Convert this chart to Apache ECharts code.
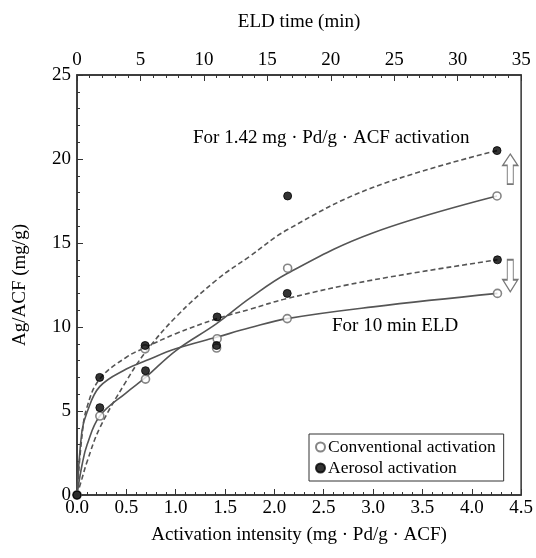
<!DOCTYPE html>
<html>
<head>
<meta charset="utf-8">
<script src="https://cdn.jsdelivr.net/npm/echarts@6/dist/echarts.min.js"></script>
<style>
  html, body { margin: 0; padding: 0; background: #fff; }
  #chart { width: 536px; height: 558px; }
</style>
</head>
<body>
<div id="chart"></div>
<script>
  // measured points: activation intensity (bottom axis) and ELD time (top axis)
  const intensity = [0, 0.23, 0.69, 1.42, 2.13, 4.26];
  const eldTime = [0, 1.8, 5.4, 11, 16.6, 33.1];

  // For 10 min ELD (vs intensity)
  const convELD10 = [0, null, 8.7, 9.3, 10.5, 12.0];
  const aeroELD10 = [0, 7.0, 8.9, 10.6, 12.0, 14.0];
  // For 1.42 mg Pd/g ACF activation (vs ELD time)
  const convAct142 = [0, 4.7, 6.9, 8.75, 13.5, 17.8];
  const aeroAct142 = [0, 5.2, 7.4, 8.9, 17.8, 20.5];

  // fitted curves
  const curveIntensity = [0, 0.05, 0.1, 0.23, 0.5, 0.7, 1.0, 1.42, 1.75, 2.13, 3.0, 4.26];
  const curveTime = [0, 0.4, 0.8, 1.8, 3.9, 5.4, 7.8, 11, 13.6, 16.6, 23.3, 33.1];
  const convELD10Fit = [0, 3.8, 4.9, 6.45, 7.5, 8.0, 8.7, 9.4, 9.95, 10.5, 11.2, 12.0];
  const aeroELD10Fit = [0, 3.5, 5.2, 6.9, 8.2, 8.8, 9.6, 10.5, 11.05, 11.7, 12.8, 14.0];
  const convAct142Fit = [0, 1.8, 3.0, 4.7, 6.1, 7.0, 8.6, 10.2, 11.7, 13.2, 15.6, 17.8];
  const aeroAct142Fit = [0, 1.0, 2.0, 4.0, 6.8, 8.5, 10.6, 12.8, 14.2, 15.8, 18.3, 20.5];

  // hollow arrows at the right edge
  const arrowUp = [[4.39, 19.4]];
  const arrowDown = [[4.39, 13.05]];

  const font = 'Liberation Serif';
  const pair = (xs, ys) => xs.map((x, i) => [x, ys[i]]).filter(p => p[1] !== null);

  const fitLine = (name, xs, ys, axis, dashed) => ({
    name: name,
    type: 'line',
    xAxisIndex: axis,
    data: pair(xs, ys),
    smooth: 0.4,
    showSymbol: false,
    silent: true,
    lineStyle: { color: '#555', width: 1.6, type: dashed ? [5, 3] : 'solid' },
    z: 2
  });

  const openDot = { color: '#fff', borderColor: '#666', borderWidth: 1.6 };
  const fullDot = { color: '#000', borderColor: '#000', borderWidth: 1 };

  const dots = (name, xs, ys, axis, style) => ({
    name: name,
    type: 'scatter',
    xAxisIndex: axis,
    data: pair(xs, ys),
    symbol: 'circle',
    symbolSize: 8,
    itemStyle: style,
    z: 5
  });

  const arrowPath = 'path://M5,0 L10,6 L7,6 L7,16 L3,16 L3,6 L0,6 Z';

  let myChart = echarts.init(document.getElementById('chart'));
  myChart.setOption({
    animation: false,
    textStyle: { fontFamily: font },
    grid: {
      left: 77, right: 13, top: 75, bottom: 63,
      show: true, borderColor: '#333', borderWidth: 1.5
    },
    legend: {
      data: ['Conventional activation', 'Aerosol activation'],
      orient: 'vertical',
      left: 309, top: 434,
      backgroundColor: '#fff',
      borderColor: '#333', borderWidth: 1,
      padding: [4, 8, 4, 6],
      itemGap: 3,
      itemWidth: 9, itemHeight: 9,
      icon: 'circle',
      textStyle: { fontFamily: font, fontSize: 17.5, color: '#000', padding: [0, 0, 0, -2] }
    },
    xAxis: [
      {
        type: 'value',
        position: 'bottom',
        min: 0, max: 4.5, interval: 0.5,
        name: 'Activation intensity (mg · Pd/g · ACF)',
        nameLocation: 'middle', nameGap: 31,
        nameTextStyle: { fontFamily: font, fontSize: 19, color: '#000' },
        axisLine: { lineStyle: { color: '#333', width: 1.5 } },
        axisTick: { inside: true, length: 6, lineStyle: { color: '#333' } },
        minorTick: { show: true, splitNumber: 5, length: 3, lineStyle: { color: '#333' } },
        splitLine: { show: false },
        axisLabel: {
          fontFamily: font, fontSize: 19, color: '#000', margin: 4,
          formatter: v => v.toFixed(1)
        }
      },
      {
        type: 'value',
        position: 'top',
        min: 0, max: 35, interval: 5,
        name: 'ELD time (min)',
        nameLocation: 'middle', nameGap: 43,
        nameTextStyle: { fontFamily: font, fontSize: 19, color: '#000' },
        axisLine: { lineStyle: { color: '#333', width: 1.5 } },
        axisTick: { inside: true, length: 6, lineStyle: { color: '#333' } },
        minorTick: { show: true, splitNumber: 5, length: 3, lineStyle: { color: '#333' } },
        splitLine: { show: false },
        axisLabel: { fontFamily: font, fontSize: 19, color: '#000', margin: 5 }
      }
    ],
    yAxis: {
      type: 'value',
      min: 0, max: 25, interval: 5,
      name: 'Ag/ACF (mg/g)',
      nameLocation: 'middle', nameGap: 47,
      nameTextStyle: { fontFamily: font, fontSize: 19, color: '#000' },
      axisLine: { show: true, lineStyle: { color: '#333', width: 1.5 } },
      axisTick: { show: true, inside: true, length: 6, lineStyle: { color: '#333' } },
      minorTick: { show: true, splitNumber: 5, length: 3, lineStyle: { color: '#333' } },
      splitLine: { show: false },
      axisLabel: { fontFamily: font, fontSize: 19, color: '#000', margin: 6 }
    },
    graphic: [
      {
        type: 'text', left: 193, top: 129,
        style: { text: 'For 1.42 mg · Pd/g · ACF activation', font: '19px "Liberation Serif"', fill: '#000' }
      },
      {
        type: 'text', left: 332, top: 317,
        style: { text: 'For 10 min ELD', font: '19px "Liberation Serif"', fill: '#000' }
      }
    ],
    series: [
      fitLine('fit conv 10', curveIntensity, convELD10Fit, 0, false),
      fitLine('fit aero 10', curveIntensity, aeroELD10Fit, 0, true),
      fitLine('fit conv 1.42', curveTime, convAct142Fit, 1, false),
      fitLine('fit aero 1.42', curveTime, aeroAct142Fit, 1, true),
      dots('Conventional activation', intensity, convELD10, 0, openDot),
      dots('Aerosol activation', intensity, aeroELD10, 0, fullDot),
      dots('Conventional activation', eldTime, convAct142, 1, openDot),
      dots('Aerosol activation', eldTime, aeroAct142, 1, fullDot),
      {
        name: 'arrow up',
        type: 'scatter',
        data: arrowUp,
        symbol: arrowPath,
        symbolSize: [15, 30],
        silent: true,
        itemStyle: { color: '#fff', borderColor: '#555', borderWidth: 1.3 },
        z: 4
      },
      {
        name: 'arrow down',
        type: 'scatter',
        data: arrowDown,
        symbol: arrowPath,
        symbolSize: [15, 32],
        symbolRotate: 180,
        silent: true,
        itemStyle: { color: '#fff', borderColor: '#555', borderWidth: 1.3 },
        z: 4
      }
    ]
  });
</script>
</body>
</html>
